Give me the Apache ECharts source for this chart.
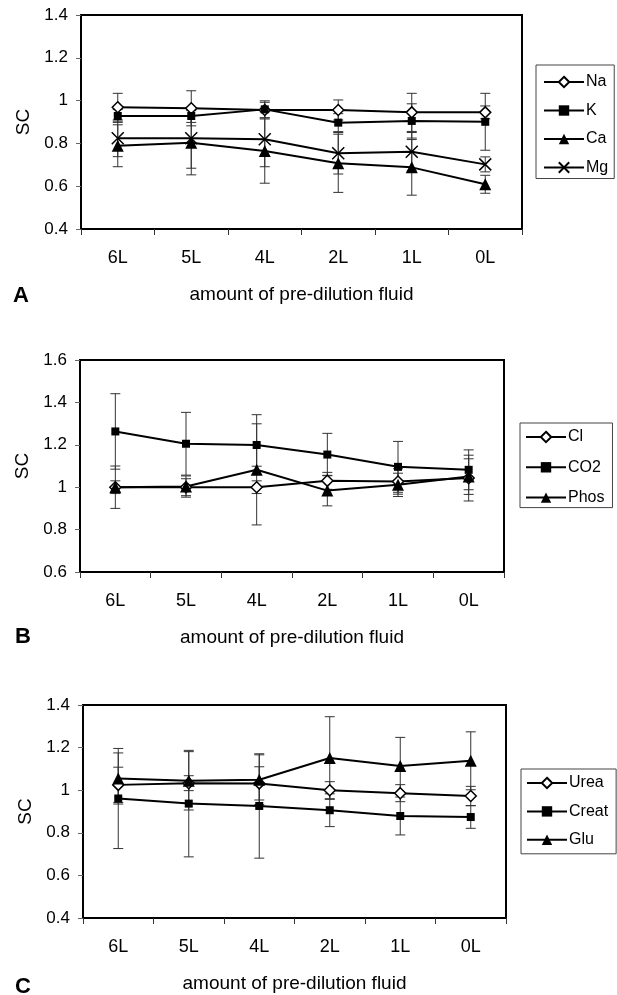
<!DOCTYPE html>
<html>
<head>
<meta charset="utf-8">
<script src="https://cdn.jsdelivr.net/npm/echarts@6/dist/echarts.min.js"></script>
<style>
html, body { margin: 0; padding: 0; background: #fff; }
#main { width: 617px; height: 995px; }
</style>
</head>
<body>
<div id="main"></div>
<script>
var categories = ['6L', '5L', '4L', '2L', '1L', '0L'];

// panel A
var naSC = [0.969, 0.964, 0.956, 0.956, 0.945, 0.945];
var naErr = [0.065, 0.082, 0.036, 0.047, 0.089, 0.03];
var kSC = [0.928, 0.928, 0.959, 0.897, 0.905, 0.901];
var kErr = [0.03, 0.03, 0.04, 0.042, 0.08, 0.133];
var caSC = [0.789, 0.803, 0.764, 0.707, 0.688, 0.609];
var caErr = [0.098, 0.15, 0.15, 0.136, 0.13, 0.042];
var mgSC = [0.824, 0.824, 0.819, 0.754, 0.761, 0.702];
var mgErr = [0.086, 0.14, 0.128, 0.097, 0.09, 0.035];

// panel B
var clSC = [1.0, 1.0, 1.0, 1.03, 1.027, 1.043];
var clErr = [0.03, 0.04, 0.03, 0.04, 0.06, 0.108];
var co2SC = [1.263, 1.205, 1.199, 1.154, 1.096, 1.082];
var co2Err = [0.178, 0.148, 0.1, 0.1, 0.12, 0.094];
var phosSC = [1.0, 1.003, 1.082, 0.984, 1.011, 1.05];
var phosErr = [0.1, 0.05, 0.26, 0.072, 0.055, 0.084];

// panel C
var ureaSC = [1.025, 1.033, 1.032, 1.0, 0.986, 0.973];
var ureaErr = [0.083, 0.035, 0.078, 0.04, 0.04, 0.045];
var creatSC = [0.961, 0.937, 0.926, 0.906, 0.879, 0.874];
var creatErr = [0.235, 0.25, 0.245, 0.077, 0.089, 0.053];
var gluSC = [1.055, 1.044, 1.049, 1.151, 1.114, 1.138];
var gluErr = [0.12, 0.137, 0.117, 0.194, 0.134, 0.136];

var axisTitle = 'amount of pre-dilution fluid';
var panelLetters = ['A', 'B', 'C'];

var font = 'Arial, "Liberation Sans", sans-serif';

var markers = {
  diamond: { symbol: 'diamond', symbolSize: 11, itemStyle: { color: '#fff', borderColor: '#000', borderWidth: 1.5 } },
  square: { symbol: 'rect', symbolSize: 8, itemStyle: { color: '#000' } },
  triangle: { symbol: 'triangle', symbolSize: 12, itemStyle: { color: '#000' } },
  cross: { symbol: 'path://M0,0L10,10M10,0L0,10', symbolSize: 12, itemStyle: { color: '#000', borderColor: '#000', borderWidth: 1.5 } }
};

var panels = [
  {
    grid: { left: 81, top: 15, width: 441, height: 214 },
    min: 0.4, max: 1.4,
    legend: { left: 536, top: 65, gap: 12.5, padding: [9, 6, 3, 7] },
    letter: { x: 13, y: 285 },
    lines: [
      { name: 'Na', sc: naSC, err: naErr, mark: 'diamond' },
      { name: 'K', sc: kSC, err: kErr, mark: 'square' },
      { name: 'Ca', sc: caSC, err: caErr, mark: 'triangle' },
      { name: 'Mg', sc: mgSC, err: mgErr, mark: 'cross' }
    ]
  },
  {
    grid: { left: 80, top: 360, width: 424, height: 212 },
    min: 0.6, max: 1.6,
    legend: { left: 520, top: 423, gap: 14.3, padding: [6, 8, 2, 5] },
    letter: { x: 15, y: 626 },
    lines: [
      { name: 'Cl', sc: clSC, err: clErr, mark: 'diamond' },
      { name: 'CO2', sc: co2SC, err: co2Err, mark: 'square' },
      { name: 'Phos', sc: phosSC, err: phosErr, mark: 'triangle' }
    ]
  },
  {
    grid: { left: 83, top: 705, width: 423, height: 213 },
    min: 0.4, max: 1.4,
    legend: { left: 521, top: 769, gap: 12.4, padding: [6, 8, 6, 5] },
    letter: { x: 15, y: 976 },
    lines: [
      { name: 'Urea', sc: ureaSC, err: ureaErr, mark: 'diamond' },
      { name: 'Creat', sc: creatSC, err: creatErr, mark: 'square' },
      { name: 'Glu', sc: gluSC, err: gluErr, mark: 'triangle' }
    ]
  }
];

function errorBars(params, api) {
  var x = api.value(0), y = api.value(1), e = api.value(2);
  var hi = api.coord([x, y + e]);
  var lo = api.coord([x, y - e]);
  var w = 5;
  var style = { stroke: '#333', lineWidth: 1 };
  return {
    type: 'group',
    children: [
      { type: 'line', shape: { x1: hi[0], y1: hi[1], x2: lo[0], y2: lo[1] }, style: style },
      { type: 'line', shape: { x1: hi[0] - w, y1: hi[1], x2: hi[0] + w, y2: hi[1] }, style: style },
      { type: 'line', shape: { x1: lo[0] - w, y1: lo[1], x2: lo[0] + w, y2: lo[1] }, style: style }
    ]
  };
}

var grids = [], xAxes = [], yAxes = [], legends = [], series = [], graphics = [];

panels.forEach(function (p, i) {
  grids.push({
    left: p.grid.left, top: p.grid.top, width: p.grid.width, height: p.grid.height,
    show: true, borderColor: '#000', borderWidth: 2, backgroundColor: 'transparent'
  });
  xAxes.push({
    type: 'category', gridIndex: i, data: categories, boundaryGap: true,
    axisLine: { lineStyle: { color: '#000', width: 2 } },
    axisTick: { show: true, length: 6, inside: false, lineStyle: { color: '#333', width: 1 } },
    axisLabel: { fontFamily: font, fontSize: 18, color: '#000', margin: 20 },
    splitLine: { show: false },
    name: axisTitle, nameLocation: 'middle', nameGap: 56,
    nameTextStyle: { fontFamily: font, fontSize: 19, color: '#000' }
  });
  yAxes.push({
    type: 'value', gridIndex: i, min: p.min, max: p.max, interval: 0.2,
    axisLine: { show: true, lineStyle: { color: '#000', width: 2 } },
    axisTick: { show: true, length: 5, inside: false, lineStyle: { color: '#666', width: 1 } },
    axisLabel: { fontFamily: font, fontSize: 17, color: '#000', margin: 13 },
    splitLine: { show: false },
    name: 'SC', nameLocation: 'middle', nameGap: 48,
    nameTextStyle: { fontFamily: font, fontSize: 19, color: '#000' }
  });
  legends.push({
    orient: 'vertical', left: p.legend.left, top: p.legend.top,
    data: p.lines.map(function (l) { return l.name; }),
    itemWidth: 40, itemHeight: 13, itemGap: p.legend.gap,
    padding: p.legend.padding,
    borderColor: '#444', borderWidth: 1, backgroundColor: '#fff',
    selectedMode: false,
    lineStyle: { color: '#000', width: 2 },
    textStyle: { fontFamily: font, fontSize: 16, color: '#000', lineHeight: 16, padding: [0, 0, 0, -3] }
  });
  p.lines.forEach(function (l) {
    var m = markers[l.mark];
    series.push({
      type: 'custom', name: l.name + ' error', xAxisIndex: i, yAxisIndex: i, z: 1,
      data: l.sc.map(function (v, j) { return [j, v, l.err[j]]; }),
      encode: { x: 0, y: 1 },
      renderItem: errorBars,
      silent: true
    });
    series.push({
      type: 'line', name: l.name, xAxisIndex: i, yAxisIndex: i, z: 3,
      data: l.sc,
      symbol: m.symbol, symbolSize: m.symbolSize, itemStyle: m.itemStyle,
      showAllSymbol: true,
      lineStyle: { color: '#000', width: 2 },
      emphasis: { disabled: true }
    });
  });
  graphics.push({
    type: 'text', left: p.letter.x, top: p.letter.y,
    style: { text: panelLetters[i], fontFamily: font, fontSize: 22, fontWeight: 'bold', fill: '#000' }
  });
});

var chart = echarts.init(document.getElementById('main'), null, { renderer: 'canvas' });
chart.setOption({
  animation: false,
  backgroundColor: '#fff',
  grid: grids,
  xAxis: xAxes,
  yAxis: yAxes,
  legend: legends,
  series: series,
  graphic: graphics
});
</script>
</body>
</html>
